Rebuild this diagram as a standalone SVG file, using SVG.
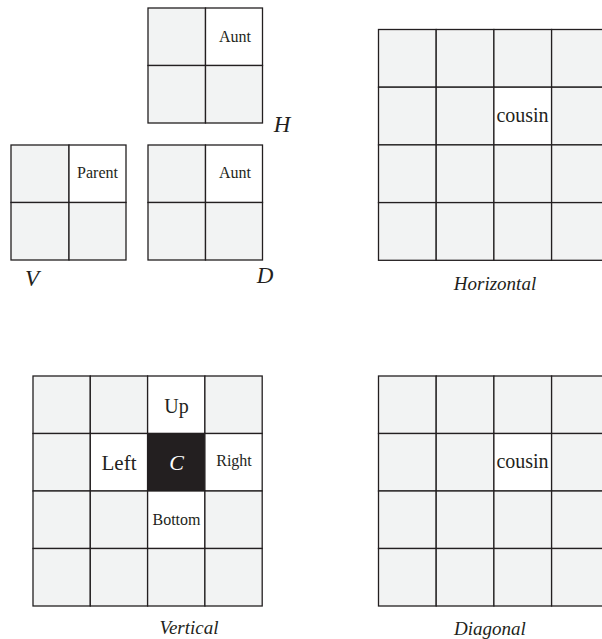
<svg xmlns="http://www.w3.org/2000/svg" width="602" height="639" viewBox="0 0 602 639">
  <style>
    .cell { fill: #f2f3f3; stroke: #231f20; stroke-width: 1.3; }
    .hi { fill: #ffffff; stroke: #231f20; stroke-width: 1.3; }
    .dark { fill: #231f20; stroke: #231f20; stroke-width: 1.3; }
    .t { font-family: "Liberation Serif", "Times New Roman", serif; fill: #231f20; text-anchor: middle; }
    .it { font-family: "Liberation Serif", "Times New Roman", serif; font-style: italic; fill: #231f20; text-anchor: middle; }
  </style>
  <rect width="602" height="639" fill="#ffffff"/>

  <!-- 2x2 block H -->
  <g id="block-h">
    <rect class="cell" x="148" y="8" width="57.5" height="57.5"/>
    <rect class="hi" x="205.5" y="8" width="57" height="57.5"/>
    <rect class="cell" x="148" y="65.5" width="57.5" height="57.5"/>
    <rect class="cell" x="205.5" y="65.5" width="57" height="57.5"/>
    <text class="t" x="235" y="42" font-size="16">Aunt</text>
    <text class="it" x="282" y="132" font-size="23">H</text>
  </g>

  <!-- 2x2 block V -->
  <g id="block-v">
    <rect class="cell" x="11" y="145" width="58" height="57.5"/>
    <rect class="hi" x="69" y="145" width="57" height="57.5"/>
    <rect class="cell" x="11" y="202.5" width="58" height="57.5"/>
    <rect class="cell" x="69" y="202.5" width="57" height="57.5"/>
    <text class="t" x="97.5" y="178" font-size="16">Parent</text>
    <text class="it" x="32" y="286" font-size="23">V</text>
  </g>

  <!-- 2x2 block D -->
  <g id="block-d">
    <rect class="cell" x="148" y="145" width="57.5" height="57.5"/>
    <rect class="hi" x="205.5" y="145" width="57" height="57.5"/>
    <rect class="cell" x="148" y="202.5" width="57.5" height="57.5"/>
    <rect class="cell" x="205.5" y="202.5" width="57" height="57.5"/>
    <text class="t" x="235" y="178" font-size="16">Aunt</text>
    <text class="it" x="265" y="283" font-size="23">D</text>
  </g>

  <!-- 4x4 grid: Horizontal -->
  <g id="grid-horizontal">
    <rect class="cell" x="378.5" y="29.5" width="57.7" height="57.7"/>
    <rect class="cell" x="436.2" y="29.5" width="57.7" height="57.7"/>
    <rect class="cell" x="493.9" y="29.5" width="57.7" height="57.7"/>
    <rect class="cell" x="551.6" y="29.5" width="57.7" height="57.7"/>
    <rect class="cell" x="378.5" y="87.2" width="57.7" height="57.7"/>
    <rect class="cell" x="436.2" y="87.2" width="57.7" height="57.7"/>
    <rect class="hi" x="493.9" y="87.2" width="57.7" height="57.7"/>
    <rect class="cell" x="551.6" y="87.2" width="57.7" height="57.7"/>
    <rect class="cell" x="378.5" y="144.9" width="57.7" height="57.7"/>
    <rect class="cell" x="436.2" y="144.9" width="57.7" height="57.7"/>
    <rect class="cell" x="493.9" y="144.9" width="57.7" height="57.7"/>
    <rect class="cell" x="551.6" y="144.9" width="57.7" height="57.7"/>
    <rect class="cell" x="378.5" y="202.6" width="57.7" height="57.7"/>
    <rect class="cell" x="436.2" y="202.6" width="57.7" height="57.7"/>
    <rect class="cell" x="493.9" y="202.6" width="57.7" height="57.7"/>
    <rect class="cell" x="551.6" y="202.6" width="57.7" height="57.7"/>
    <text class="t" x="522.5" y="122" font-size="20">cousin</text>
    <text class="it" x="495" y="290" font-size="19">Horizontal</text>
  </g>

  <!-- 4x4 grid: Vertical, centred on C -->
  <g id="grid-vertical">
    <rect class="cell" x="33" y="376" width="57.3" height="57.5"/>
    <rect class="cell" x="90.3" y="376" width="57.3" height="57.5"/>
    <rect class="hi" x="147.6" y="376" width="57.3" height="57.5"/>
    <rect class="cell" x="204.9" y="376" width="57.3" height="57.5"/>
    <rect class="cell" x="33" y="433.5" width="57.3" height="57.5"/>
    <rect class="hi" x="90.3" y="433.5" width="57.3" height="57.5"/>
    <rect class="dark" x="147.6" y="433.5" width="57.3" height="57.5"/>
    <rect class="hi" x="204.9" y="433.5" width="57.3" height="57.5"/>
    <rect class="cell" x="33" y="491" width="57.3" height="57.5"/>
    <rect class="cell" x="90.3" y="491" width="57.3" height="57.5"/>
    <rect class="hi" x="147.6" y="491" width="57.3" height="57.5"/>
    <rect class="cell" x="204.9" y="491" width="57.3" height="57.5"/>
    <rect class="cell" x="33" y="548.5" width="57.3" height="57.5"/>
    <rect class="cell" x="90.3" y="548.5" width="57.3" height="57.5"/>
    <rect class="cell" x="147.6" y="548.5" width="57.3" height="57.5"/>
    <rect class="cell" x="204.9" y="548.5" width="57.3" height="57.5"/>
    <text class="t" x="176.5" y="413" font-size="20">Up</text>
    <text class="t" x="119" y="470" font-size="21">Left</text>
    <text class="it" x="176.5" y="470" font-size="22" style="fill:#ffffff">C</text>
    <text class="t" x="234" y="466" font-size="16">Right</text>
    <text class="t" x="176.5" y="525" font-size="16">Bottom</text>
    <text class="it" x="189" y="634" font-size="19">Vertical</text>
  </g>

  <!-- 4x4 grid: Diagonal -->
  <g id="grid-diagonal">
    <rect class="cell" x="378.5" y="376" width="57.7" height="57.5"/>
    <rect class="cell" x="436.2" y="376" width="57.7" height="57.5"/>
    <rect class="cell" x="493.9" y="376" width="57.7" height="57.5"/>
    <rect class="cell" x="551.6" y="376" width="57.7" height="57.5"/>
    <rect class="cell" x="378.5" y="433.5" width="57.7" height="57.5"/>
    <rect class="cell" x="436.2" y="433.5" width="57.7" height="57.5"/>
    <rect class="hi" x="493.9" y="433.5" width="57.7" height="57.5"/>
    <rect class="cell" x="551.6" y="433.5" width="57.7" height="57.5"/>
    <rect class="cell" x="378.5" y="491" width="57.7" height="57.5"/>
    <rect class="cell" x="436.2" y="491" width="57.7" height="57.5"/>
    <rect class="cell" x="493.9" y="491" width="57.7" height="57.5"/>
    <rect class="cell" x="551.6" y="491" width="57.7" height="57.5"/>
    <rect class="cell" x="378.5" y="548.5" width="57.7" height="57.5"/>
    <rect class="cell" x="436.2" y="548.5" width="57.7" height="57.5"/>
    <rect class="cell" x="493.9" y="548.5" width="57.7" height="57.5"/>
    <rect class="cell" x="551.6" y="548.5" width="57.7" height="57.5"/>
    <text class="t" x="522.5" y="468" font-size="20">cousin</text>
    <text class="it" x="490" y="635" font-size="19">Diagonal</text>
  </g>
</svg>
